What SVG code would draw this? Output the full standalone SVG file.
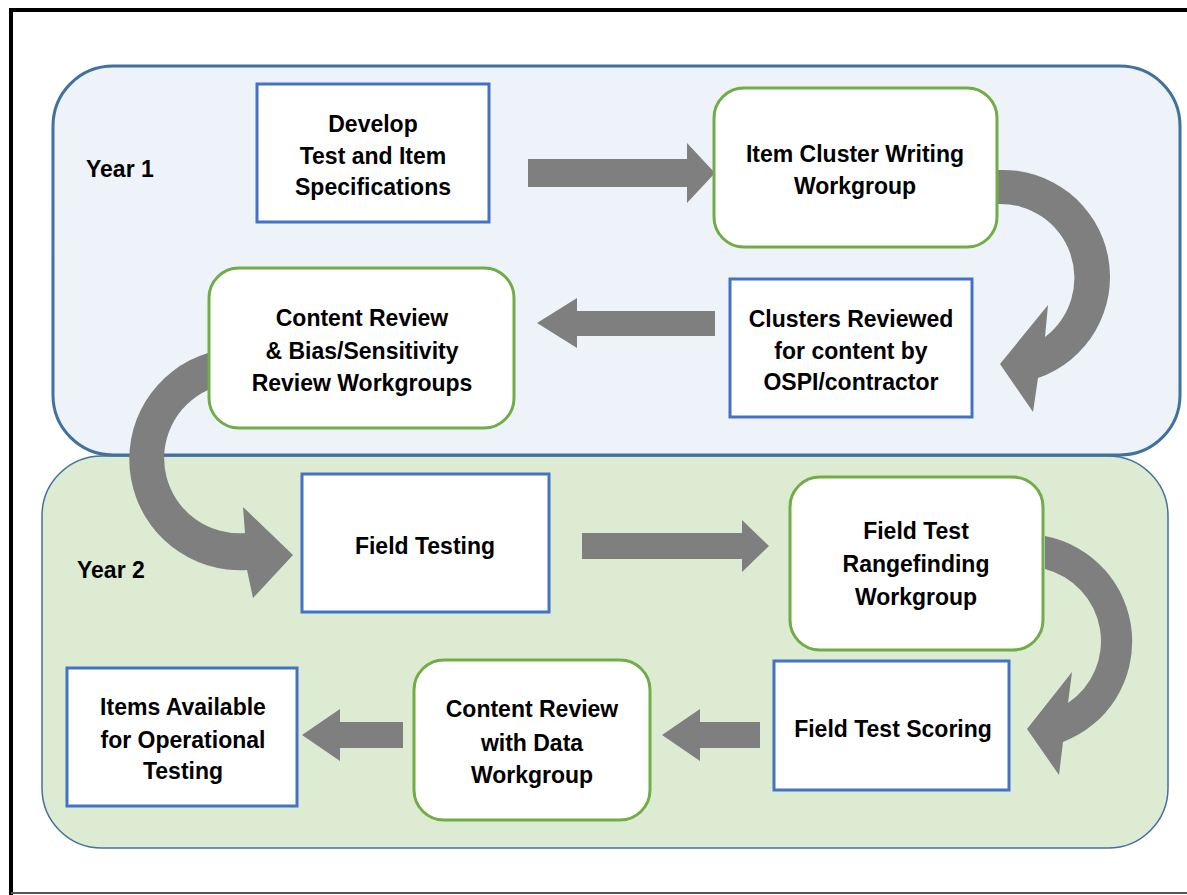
<svg xmlns="http://www.w3.org/2000/svg" width="1187" height="895" viewBox="0 0 1187 895">
<style>
.t{font-family:"Liberation Sans",Arial,sans-serif;font-weight:bold;font-size:23px;fill:#000;text-anchor:middle}
.lbl{font-family:"Liberation Sans",Arial,sans-serif;font-weight:bold;font-size:23px;fill:#000}
.sq{fill:#fff;stroke:#4472C4;stroke-width:3}
.rd{fill:#fff;stroke:#70AD47;stroke-width:3}
.ar{fill:#7F7F7F}
</style>
<rect x="0" y="0" width="1187" height="895" fill="#fff"/>
<path d="M11,1000 L11,10 L1190,10" fill="none" stroke="#000" stroke-width="4"/>
<line x1="11" y1="893" x2="1187" y2="893" stroke="#555" stroke-width="2"/>
<g id="year2-panel">
<rect x="42" y="456" width="1126" height="392" rx="60" fill="#DDEBD3" stroke="#41719C" stroke-width="1.5"/>
<text class="lbl" x="77" y="578">Year 2</text>
</g>
<g id="year1-panel">
<rect x="53" y="66" width="1127" height="389" rx="60" fill="#EEF3FA" stroke="#41719C" stroke-width="3"/>
<text class="lbl" x="86" y="177">Year 1</text>
</g>
<g id="connectors">
<path class="ar" d="M528,159 L687,159 L687,143 L715,173 L687,203 L687,187 L528,187 Z"/>
<path class="ar" d="M998,170 A107 107 0 0 1 1038,378 L1033,412 L1000,364 L1048,305 L1045,337 A74 74 0 0 0 998,204 Z"/>
<path class="ar" d="M715,311 L577,311 L577,298 L537,323 L577,348 L577,336 L715,336 Z"/>
<path class="ar" d="M208,353 A111 111 0 0 0 247,570 L253,598 L293,555 L243,507 L245,533 A75 75 0 0 1 208,390 Z"/>
<path class="ar" d="M582,533 L742,533 L742,520 L769,546 L742,572 L742,559 L582,559 Z"/>
<path class="ar" d="M1045,536 A107.5 107.5 0 0 1 1063,742 L1059,775 L1027,729 L1072,672 L1068,703 A74.5 74.5 0 0 0 1045,569 Z"/>
<path class="ar" d="M760,722 L700,722 L700,709 L662,735 L700,761 L700,748 L760,748 Z"/>
<path class="ar" d="M403,722 L340,722 L340,709 L302,735 L340,761 L340,748 L403,748 Z"/>
</g>
<g id="n1">
<rect class="sq" x="257" y="84" width="232" height="138"/>
<text class="t" x="373" y="132">Develop</text>
<text class="t" x="373" y="164">Test and Item</text>
<text class="t" x="373" y="195">Specifications</text>
</g>
<g id="n2">
<rect class="rd" x="714" y="88" width="283" height="159" rx="30"/>
<text class="t" x="855" y="162">Item Cluster Writing</text>
<text class="t" x="855" y="194">Workgroup</text>
</g>
<g id="n3">
<rect class="sq" x="730" y="279" width="242" height="138"/>
<text class="t" x="851" y="327">Clusters Reviewed</text>
<text class="t" x="851" y="359">for content by</text>
<text class="t" x="851" y="390">OSPI/contractor</text>
</g>
<g id="n4">
<rect class="rd" x="209" y="268" width="305" height="160" rx="30"/>
<text class="t" x="362" y="326">Content Review</text>
<text class="t" x="362" y="359">&amp; Bias/Sensitivity</text>
<text class="t" x="362" y="391">Review Workgroups</text>
</g>
<g id="n5">
<rect class="sq" x="302" y="474" width="247" height="138"/>
<text class="t" x="425" y="554">Field Testing</text>
</g>
<g id="n6">
<rect class="rd" x="790" y="477" width="253" height="173" rx="30"/>
<text class="t" x="916" y="539">Field Test</text>
<text class="t" x="916" y="572">Rangefinding</text>
<text class="t" x="916" y="605">Workgroup</text>
</g>
<g id="n7">
<rect class="sq" x="774" y="661" width="235" height="129"/>
<text class="t" x="893" y="737">Field Test Scoring</text>
</g>
<g id="n8">
<rect class="rd" x="414" y="660" width="236" height="160" rx="30"/>
<text class="t" x="532" y="717">Content Review</text>
<text class="t" x="532" y="751">with Data</text>
<text class="t" x="532" y="783">Workgroup</text>
</g>
<g id="n9">
<rect class="sq" x="67" y="668" width="230" height="138"/>
<text class="t" x="183" y="715">Items Available</text>
<text class="t" x="183" y="748">for Operational</text>
<text class="t" x="183" y="779">Testing</text>
</g>
</svg>
